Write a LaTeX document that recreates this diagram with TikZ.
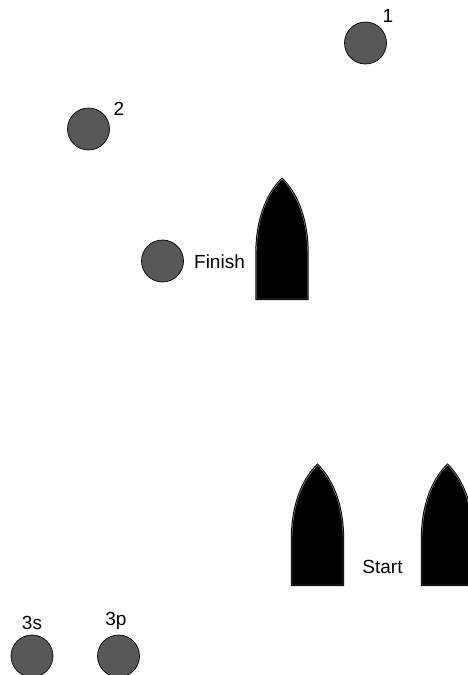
\documentclass[tikz,border=0pt]{standalone}
\usepackage{fontspec}
\setmainfont{Liberation Sans}
\usepackage{tikz}
\usepackage{xcolor}

\definecolor{buoygray}{RGB}{88,88,88}

\tikzset{
  buoy/.style={circle, fill=buoygray, draw=black, line width=0.7pt, minimum size=42pt, inner sep=0pt},
  marklabel/.style={inner sep=0pt, font=\fontsize{19}{22}\selectfont},
  boat/.pic={
    \draw[fill=black, draw=black, line width=1pt, double=gray!70, double distance=0.4pt]
      (-25.5,0) -- (-25.5,-45) .. controls (-25.5,-85) and (-12,-108) .. (0,-120)
      .. controls (12,-108) and (25.5,-85) .. (25.5,-45) -- (25.5,0) -- cycle;
  }
}

\begin{document}
\begin{tikzpicture}[x=1pt, y=-1pt]
\useasboundingbox (0,0) rectangle (467,675);

% buoys
\node[buoy] (buoyA) at (365.5,43) {};
\node[buoy] (buoyB) at (88.5,129) {};
\node[buoy] (finishbuoy) at (162.5,261) {};
\node[buoy] (buoyS) at (32,656) {};
\node[buoy] (buoyP) at (118.5,656) {};

% labels
\node[marklabel] (labA) at (388,16) {1};
\node[marklabel] (labB) at (119,109) {2};
\node[marklabel] (labfinish) at (219.5,262) {Finish};
\node[marklabel] (labS) at (32,623) {3s};
\node[marklabel] (labP) at (116,621) {3p};
\node[marklabel] (labstart) at (382.5,567) {Start};

% boats
\pic at (282,299) {boat};
\pic at (317.5,585) {boat};
\pic at (447.5,585) {boat};
\end{tikzpicture}
\end{document}
